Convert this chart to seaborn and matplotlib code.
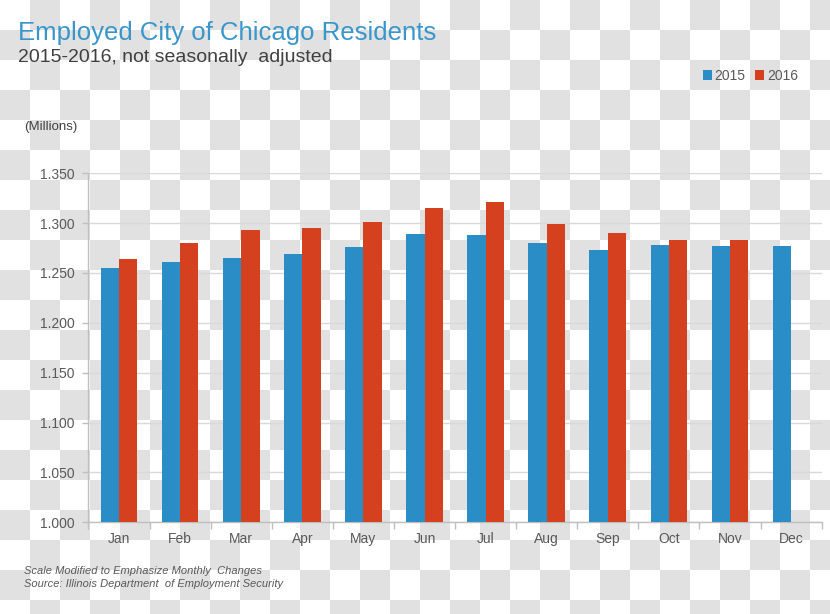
import numpy as np
import pandas as pd
import matplotlib
matplotlib.use("Agg")
import matplotlib.pyplot as plt
import seaborn as sns
from matplotlib.patches import Patch
from matplotlib.ticker import FixedLocator

months = ["Jan", "Feb", "Mar", "Apr", "May", "Jun", "Jul", "Aug", "Sep", "Oct", "Nov", "Dec"]
employed_2015 = [1.2554, 1.2611, 1.2654, 1.2688, 1.2758, 1.2889, 1.2879, 1.2804, 1.2731, 1.2784, 1.2768, 1.2774]
employed_2016 = [1.2638, 1.2801, 1.2932, 1.2955, 1.3009, 1.3149, 1.3210, 1.2992, 1.2905, 1.2828, 1.2828, np.nan]
years = ["2015", "2016"]
y_ticks = [1.000, 1.050, 1.100, 1.150, 1.200, 1.250, 1.300, 1.350]

blue = "#2a8dc5"
red = "#d5401f"
title_blue = "#3a96ca"
gray_text = "#595959"

df = pd.DataFrame({
    "month": months * 2,
    "year": ["2015"] * 12 + ["2016"] * 12,
    "value": employed_2015 + employed_2016,
})

sns.set_theme(style="white")
plt.rcParams["font.family"] = ["Liberation Sans", "DejaVu Sans"]

W, H = 830, 614
fig = plt.figure(figsize=(W / 100, H / 100), dpi=100)
fig.patch.set_facecolor("white")

# checkered background as in the reference
yy, xx = np.mgrid[0:H, 0:W]
mask = ((xx // 30 + yy // 30) % 2) == 1
bg = np.ones((H, W, 3))
bg[mask] = np.array([0xe1, 0xe1, 0xe1]) / 255.0
fig.figimage(bg, xo=0, yo=0, origin="upper", zorder=-10)

ax = fig.add_axes([0.1066, 0.1494, 0.8833, 0.5684])
ax.patch.set_visible(False)

sns.barplot(data=df, x="month", y="value", hue="year", order=months, hue_order=years,
            palette=[blue, red], width=0.6, gap=0, errorbar=None, ax=ax,
            legend=False, saturation=1, zorder=3, linewidth=0)

ax.set_ylim(1.0, 1.35)
ax.set_xlim(-0.5, 11.5)
ax.set_yticks(y_ticks)
ax.set_yticklabels([f"{v:.3f}" for v in y_ticks])
ax.set_xlabel("")
ax.set_ylabel("")

ax.xaxis.grid(False, which="both")
ax.yaxis.grid(False, which="minor")
ax.yaxis.grid(True, which="major", color="#d9d9d9", linewidth=1, zorder=0)
ax.set_axisbelow(True)

for s in ["top", "right"]:
    ax.spines[s].set_visible(False)
for s in ["left", "bottom"]:
    ax.spines[s].set_color("#bfbfbf")
    ax.spines[s].set_linewidth(1)

ax.tick_params(axis="y", which="major", length=4, width=1, color="#bfbfbf",
               labelsize=10, labelcolor=gray_text, pad=6, left=True)
ax.tick_params(axis="x", which="major", length=0, labelsize=10, labelcolor=gray_text, pad=7)
ax.xaxis.set_minor_locator(FixedLocator(np.arange(-0.5, 12, 1.0)))
ax.tick_params(axis="x", which="minor", length=5, width=1, color="#bfbfbf", bottom=True)

fig.text(18 / W, 1 - 40 / H, "Employed City of Chicago Residents", fontsize=18.5,
         color=title_blue, ha="left", va="baseline")
fig.text(18 / W, 1 - 62 / H, "2015-2016, not seasonally  adjusted", fontsize=14,
         color="#404040", ha="left", va="baseline")
fig.text(24 / W, 1 - 127 / H, "(Millions)", fontsize=9.5, color="#404040",
         ha="left", va="center")
fig.text(24 / W, 1 - 571 / H, "Scale Modified to Emphasize Monthly  Changes", fontsize=8,
         color=gray_text, ha="left", va="center", style="italic")
fig.text(24 / W, 1 - 584 / H, "Source: Illinois Department  of Employment Security", fontsize=8,
         color=gray_text, ha="left", va="center", style="italic")

handles = [Patch(facecolor=blue, edgecolor="none"), Patch(facecolor=red, edgecolor="none")]
leg = fig.legend(handles, years, loc="center right", bbox_to_anchor=(798 / W, 1 - 76 / H),
                 ncol=2, frameon=False, handlelength=0.65, handleheight=0.65,
                 handletextpad=0.2, columnspacing=0.7, fontsize=10, borderaxespad=0,
                 borderpad=0)
for t in leg.get_texts():
    t.set_color(gray_text)

fig.savefig("out.png", dpi=100)
